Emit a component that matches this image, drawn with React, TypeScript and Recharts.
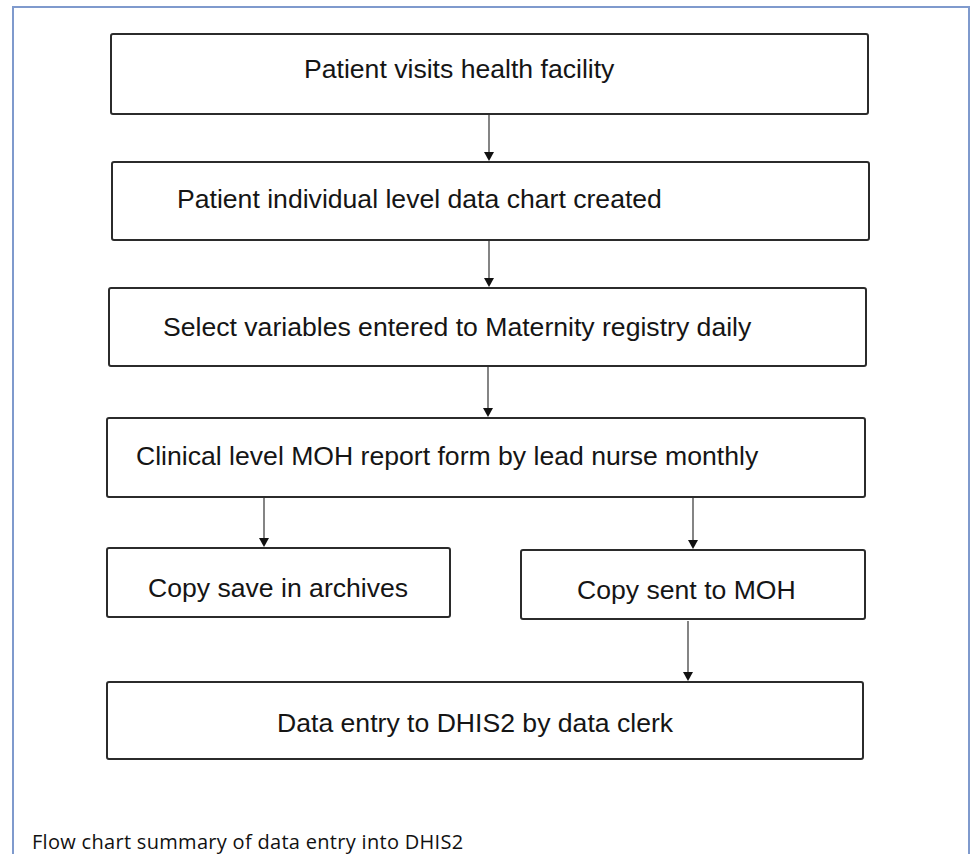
import React from 'react';
import {
  ComposedChart,
  XAxis,
  YAxis,
  ReferenceArea,
  ReferenceLine,
  ReferenceDot,
  Scatter,
} from 'recharts';

const W = 971;
const H = 854;

// flow steps, top to bottom (the two "Copy" boxes share a row)
const stepLabels = [
  'Patient visits health facility',
  'Patient individual level data chart created',
  'Select variables entered to Maternity registry daily',
  'Clinical level MOH report form by lead nurse monthly',
  'Copy save in archives',
  'Copy sent to MOH',
  'Data entry to DHIS2 by data clerk',
];

// box extents, in page units
const boxLeft = [111, 112, 109, 107, 107, 521, 107];
const boxRight = [868, 869, 866, 865, 450, 865, 863];
const boxTop = [34, 162, 288, 418, 548, 550, 682];
const boxBottom = [114, 240, 366, 497, 617, 619, 759];
const labelX = [304, 177, 163, 136, 148, 577, 277];
const labelY = [69, 199, 327, 456, 588, 590, 723];

// connectors
const arrowX = [489, 489, 488, 264, 693, 688];
const arrowFrom = [115, 241, 367, 498, 498, 621];
const arrowTo = [161, 287, 417, 547, 549, 681];

const caption = 'Flow chart summary of data entry into DHIS2';
const captionPos = [{ x: 32, y: 849, text: caption }];

const labelPoints = stepLabels.map((text, i) => ({ x: labelX[i], y: labelY[i], text }));

const StepText = (props: any) => (
  <text
    x={props.cx}
    y={props.cy}
    fontFamily="'Liberation Sans', Arial, sans-serif"
    fontSize={26.6}
    fill="#151515"
    dominantBaseline="central"
  >
    {props.payload.text}
  </text>
);

const CaptionText = (props: any) => (
  <text
    x={props.cx}
    y={props.cy}
    fontFamily="'Open Sans', Lato, sans-serif"
    fontSize={20}
    letterSpacing={0.3}
    fill="#111"
  >
    {props.payload.text}
  </text>
);

const ArrowHead = (props: any) => {
  const { cx, cy } = props;
  if (cx == null || cy == null) return null;
  return <polygon points={`${cx - 5},${cy - 9} ${cx + 5},${cy - 9} ${cx},${cy}`} fill="#111" />;
};

export default function App() {
  return (
    <div style={{ width: W, height: H, background: '#fff' }}>
      <style>{'body{margin:0}'}</style>
      <ComposedChart width={W} height={H} margin={{ top: 0, right: 0, bottom: 0, left: 0 }}>
        <XAxis type="number" dataKey="x" domain={[0, W]} hide allowDataOverflow />
        <YAxis type="number" dataKey="y" domain={[0, H]} reversed hide allowDataOverflow />

        {/* page frame, open at the bottom edge */}
        <ReferenceArea
          x1={13}
          x2={969}
          y1={7}
          y2={H + 6}
          fill="none"
          stroke="#7f9acd"
          strokeWidth={2}
          ifOverflow="visible"
        />

        {stepLabels.map((s, i) => (
          <ReferenceArea
            key={s}
            x1={boxLeft[i]}
            x2={boxRight[i]}
            y1={boxTop[i]}
            y2={boxBottom[i]}
            fill="#fff"
            fillOpacity={1}
            stroke="#2b2b2b"
            strokeWidth={2}
            radius={2}
            ifOverflow="visible"
          />
        ))}

        {arrowX.map((x, i) => (
          <ReferenceLine
            key={`l${i}`}
            segment={[
              { x, y: arrowFrom[i] },
              { x, y: arrowTo[i] - 6 },
            ]}
            stroke="#333"
            strokeWidth={1.2}
            ifOverflow="visible"
          />
        ))}
        {arrowX.map((x, i) => (
          <ReferenceDot key={`h${i}`} x={x} y={arrowTo[i]} r={0} shape={<ArrowHead />} ifOverflow="visible" />
        ))}

        <Scatter data={labelPoints} shape={<StepText />} isAnimationActive={false} />
        <Scatter data={captionPos} shape={<CaptionText />} isAnimationActive={false} />
      </ComposedChart>
    </div>
  );
}
